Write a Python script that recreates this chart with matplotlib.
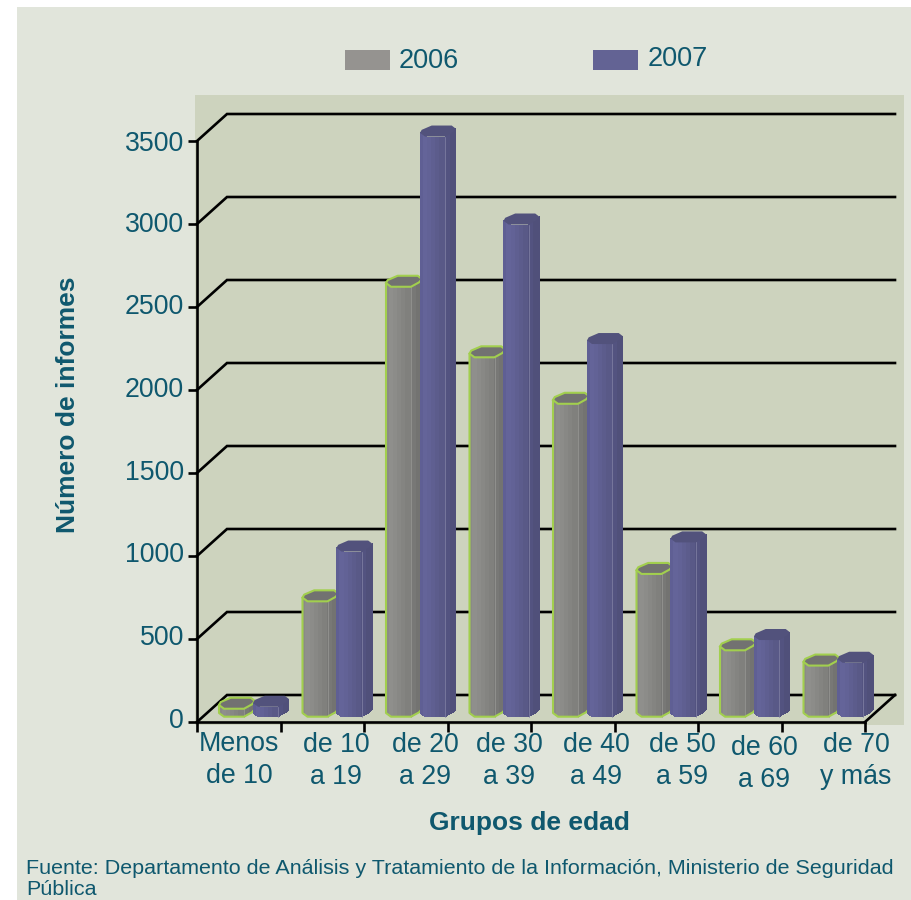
import matplotlib
matplotlib.use("Agg")
import matplotlib.pyplot as plt
from matplotlib.patches import Polygon, Rectangle
from matplotlib.transforms import Affine2D

plt.rcParams["font.family"] = ["Liberation Sans", "DejaVu Sans"]

groups = ["Menos\nde 10", "de 10\na 19", "de 20\na 29", "de 30\na 39",
          "de 40\na 49", "de 50\na 59", "de 60\na 69", "de 70\ny más"]
values_2006 = [48, 695, 2590, 2165, 1885, 860, 400, 308]
values_2007 = [60, 995, 3495, 2965, 2245, 1050, 462, 325]
y_ticks = [0, 500, 1000, 1500, 2000, 2500, 3000, 3500]

TEXT = "#0f586e"
PANEL = "#e1e5db"
WALL = "#cdd3be"
GREEN = "#a2cf4e"

W, H = 911, 900
fig = plt.figure(figsize=(W / 100, H / 100), dpi=100, facecolor="white")

# front plane of the fake 3d box, pixel positions
left, right, base, top = 197, 865, 722, 141
ax = fig.add_axes([left / W, 1 - base / H, (right - left) / W, (base - top) / H])
ax.set_xlim(0, 8)
ax.set_ylim(0, 3500)
ax.patch.set_visible(False)

# size of one pixel in data units
px = 8 / (right - left)
py = 3500 / (base - top)
depth_x, depth_y = 30 * px, 27 * py


def fig_rect(x0, y0, x1, y1, color, z):
    fig.patches.append(Rectangle((x0 / W, 1 - y1 / H), (x1 - x0) / W, (y1 - y0) / H,
                                 transform=fig.transFigure, facecolor=color,
                                 edgecolor="none", zorder=z))


fig_rect(17, 7, 911, 900, PANEL, -3)
fig_rect(195, 95, 904, 725, WALL, -2)

# back wall grid and the slanted part on the left wall
for v in y_ticks:
    ax.plot([0, depth_x, 8 + depth_x], [v, v + depth_y, v + depth_y],
            color="black", lw=1.9, clip_on=False, zorder=1, solid_joinstyle="miter")
ax.plot([8, 8 + depth_x], [0, depth_y], color="black", lw=1.9, clip_on=False, zorder=1)

for s in ["top", "right"]:
    ax.spines[s].set_visible(False)
for s in ["left", "bottom"]:
    ax.spines[s].set_linewidth(1.9)
    ax.spines[s].set_zorder(6)

ax.set_yticks(y_ticks)
ax.set_xticks(range(9))
ax.set_xticklabels([])
ax.tick_params(axis="y", length=6.5, width=1.9, labelsize=19.3, labelcolor=TEXT, pad=2.8)
ax.tick_params(axis="x", length=7, width=1.9)

# the value labels drift above their ticks towards the bottom of the axis
label_lift = [4, 4, 4, 3, 3, 3, 2, 0]
for lab, lift in zip(ax.get_yticklabels(), label_lift):
    lab.set_transform(lab.get_transform() + Affine2D().translate(0, lift))

# octagonal section of a column, (x, y) in px from the left corner of the cap
front = [(0, 0), (5, -3.7), (25, -3.7), (33, 0.7), (36, 4)]
back = [(31.7, 7.3), (11.7, 7.3), (1.7, 3)]
side_at = 25
floor = (722 - 713) * py

# shade stops along the front, light to dark, then the side face
shade_2006 = ["#8a8a87", "#8f8f8c", "#8c8c89", "#888885", "#848481", "#80807d", "#787876", "#737371"]
shade_2007 = ["#5f5f94", "#646499", "#626296", "#5f5f91", "#5c5c8c", "#595987", "#535380", "#50507a"]
cap_2006 = "#727271"
cap_2007 = "#52527c"


def front_y(x):
    for (x0, y0), (x1, y1) in zip(front[:-1], front[1:]):
        if x <= x1:
            return y0 + (y1 - y0) * (x - x0) / (x1 - x0)
    return front[-1][1]


def draw_column(x, value, shades, cap, outline, z):
    xs = [0, 3, 7, 11, 15, 19, 25, 30, 36]
    lo = floor
    hi = floor + value
    for i in range(len(xs) - 1):
        x0, x1 = xs[i], xs[i + 1]
        # walk along the front curve so the strip follows its corners
        knots = [p[0] for p in front if x0 < p[0] < x1]
        along = [x0] + knots + [x1]
        bottom_edge = [(x + t * px, lo + front_y(t) * py) for t in along]
        top_edge = [(x + t * px, hi + front_y(t) * py) for t in reversed(along)]
        ax.add_patch(Polygon(bottom_edge + top_edge, closed=True,
                             facecolor=shades[min(i, len(shades) - 1)], edgecolor="none",
                             clip_on=False, zorder=z, antialiased=False))
    cap_pts = [(x + a * px, hi + b * py) for a, b in front + back]
    ax.add_patch(Polygon(cap_pts, closed=True, facecolor=cap, edgecolor="none",
                         clip_on=False, zorder=z + 0.1))
    # thin light line where the side face starts
    ax.plot([x + side_at * px] * 2, [lo + front_y(side_at) * py, hi + front_y(side_at) * py],
            color="#8484a8" if outline is None else "#9a9a96", lw=0.5, clip_on=False, zorder=z + 0.1)
    if outline:
        sil = ([(x + a * px, lo + b * py) for a, b in front]
               + [(x + 36 * px, hi + 4 * py)]
               + [(x + a * px, hi + b * py) for a, b in back]
               + [(x, hi)])
        ax.add_patch(Polygon(sil, closed=True, fill=False, edgecolor=outline, lw=1.5,
                             clip_on=False, zorder=z + 0.2, joinstyle="round"))
        rim = [(x + a * px, hi + b * py) for a, b in front]
        ax.plot([p[0] for p in rim], [p[1] for p in rim], color=outline, lw=1.5,
                clip_on=False, zorder=z + 0.2)


for i in range(len(groups)):
    draw_column(i + 22 * px, values_2006[i], shade_2006, cap_2006, GREEN, 2 + i * 0.01)
    draw_column(i + 56 * px, values_2007[i], shade_2007, cap_2007, None, 3 + i * 0.01)

# category labels sit off centre in the original
label_x = [239, 336, 425, 509, 596, 682, 764, 856]
label_y = [760, 761, 761, 761, 761, 761, 764, 761]
for name, lx, ly in zip(groups, label_x, label_y):
    fig.text(lx / W, 1 - ly / H, name, ha="center", va="center", fontsize=19.3,
             color=TEXT, linespacing=1.33)

fig.text(68 / W, 1 - 405 / H, "Número de informes", rotation=90, ha="center", va="center",
         fontsize=19, fontweight="bold", color=TEXT)
fig.text(529 / W, 1 - 823 / H, "Grupos de edad", ha="center", va="center",
         fontsize=19, fontweight="bold", color=TEXT)

# legend
fig_rect(345, 50, 390, 70, "#959390", 1)
fig_rect(593, 50, 638, 70, "#636394", 1)
fig.text(399 / W, 1 - 61 / H, "2006", va="center", fontsize=19.5, color=TEXT)
fig.text(648 / W, 1 - 59 / H, "2007", va="center", fontsize=19.5, color=TEXT)

fig.text(26 / W, 1 - 874 / H,
         "Fuente: Departamento de Análisis y Tratamiento de la Información, Ministerio de Seguridad",
         va="baseline", fontsize=15.45, color=TEXT)
fig.text(26 / W, 1 - 895 / H, "Pública", va="baseline", fontsize=15.45, color=TEXT)

fig.savefig("out.png", dpi=100)
plt.close(fig)
